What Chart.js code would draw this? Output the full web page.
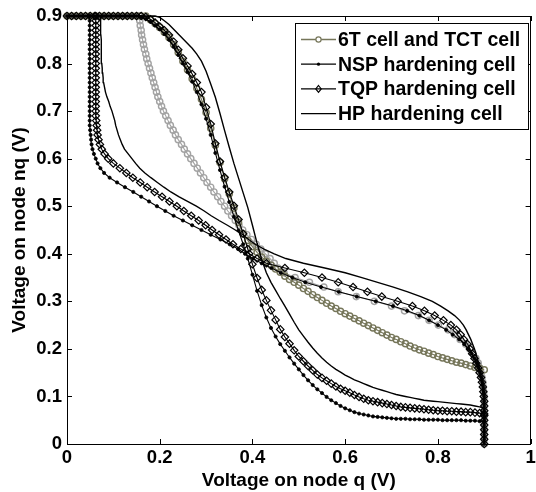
<!DOCTYPE html>
<html><head><meta charset="utf-8">
<script src="https://cdn.jsdelivr.net/npm/chart.js@4"></script>
<style>html,body{margin:0;padding:0;background:#fff;}</style>
</head><body>
<canvas id="c" width="536" height="492" style="display:block;width:536px;height:492px"></canvas>
<script>
// Sweep voltage (input node), 0.00 .. 0.90 V
const sweep = [
0.00,0.01,0.02,0.03,0.04,0.05,0.06,0.07,0.08,0.09,
0.10,0.11,0.12,0.13,0.14,0.15,0.16,0.17,0.18,0.19,
0.20,0.21,0.22,0.23,0.24,0.25,0.26,0.27,0.28,0.29,
0.30,0.31,0.32,0.33,0.34,0.35,0.36,0.37,0.38,0.39,
0.40,0.41,0.42,0.43,0.44,0.45,0.46,0.47,0.48,0.49,
0.50,0.51,0.52,0.53,0.54,0.55,0.56,0.57,0.58,0.59,
0.60,0.61,0.62,0.63,0.64,0.65,0.66,0.67,0.68,0.69,
0.70,0.71,0.72,0.73,0.74,0.75,0.76,0.77,0.78,0.79,
0.80,0.81,0.82,0.83,0.84,0.85,0.86,0.87,0.88,0.89,
0.90];

// 6T / TCT cell: nq as a function of q (curve A), q as a function of nq (curve B)
const cell6T_A = [
0.9,0.9,0.9,0.9,0.9,0.9,0.9,0.9,0.9,0.9,
0.9,0.9,0.9,0.9,0.9,0.9,0.9,0.9,0.892,0.884,
0.876,0.866,0.855,0.84,0.823,0.805,0.787,0.768,0.748,0.725,
0.697,0.664,0.628,0.592,0.558,0.526,0.496,0.466,0.442,0.428,
0.415,0.403,0.393,0.384,0.376,0.368,0.361,0.353,0.346,0.34,
0.334,0.327,0.321,0.314,0.308,0.302,0.296,0.29,0.285,0.279,
0.274,0.269,0.264,0.259,0.254,0.249,0.244,0.239,0.234,0.229,
0.224,0.22,0.215,0.211,0.206,0.202,0.198,0.195,0.191,0.188,
0.184,0.181,0.178,0.175,0.172,0.17,0.167,0.164,0.161,0.159,
0.156];
const cell6T_B = [
0.9,0.9,0.9,0.9,0.9,0.9,0.9,0.9,0.9,0.9,
0.9,0.899,0.898,0.897,0.895,0.893,0.89,0.887,0.882,0.876,
0.869,0.86,0.848,0.836,0.822,0.801,0.781,0.758,0.728,0.7,
0.663,0.624,0.585,0.554,0.523,0.492,0.468,0.455,0.447,0.438,
0.428,0.418,0.408,0.398,0.388,0.379,0.371,0.363,0.355,0.347,
0.34,0.332,0.325,0.317,0.31,0.302,0.295,0.288,0.281,0.274,
0.267,0.26,0.253,0.247,0.24,0.234,0.229,0.223,0.218,0.213,
0.208,0.204,0.2,0.196,0.193,0.19,0.187,0.184,0.181,0.178,
0.175,0.172,0.17,0.167,0.165,0.163,0.161,0.16,0.158,0.157,
0.155];

// NSP hardening cell
const nsp_A = [
0.9,0.9,0.9,0.9,0.9,0.9,0.9,0.9,0.9,0.9,
0.9,0.9,0.9,0.9,0.9,0.9,0.898,0.894,0.888,0.88,
0.872,0.862,0.85,0.835,0.818,0.8,0.782,0.762,0.74,0.714,
0.684,0.65,0.612,0.576,0.541,0.509,0.478,0.449,0.42,0.39,
0.356,0.322,0.292,0.266,0.244,0.226,0.21,0.196,0.182,0.169,
0.157,0.145,0.134,0.124,0.115,0.107,0.099,0.092,0.086,0.08,
0.075,0.071,0.067,0.064,0.062,0.06,0.058,0.057,0.056,0.055,
0.054,0.053,0.053,0.053,0.052,0.052,0.052,0.051,0.051,0.051,
0.051,0.05,0.05,0.05,0.05,0.05,0.049,0.049,0.049,0.048,
0.048];
const nsp_B = [
0.9,0.9,0.9,0.9,0.9,0.9,0.9,0.9,0.9,0.9,
0.9,0.899,0.898,0.896,0.894,0.891,0.888,0.884,0.879,0.873,
0.866,0.857,0.846,0.832,0.818,0.8,0.781,0.76,0.734,0.703,
0.666,0.625,0.586,0.548,0.514,0.486,0.461,0.441,0.42,0.401,
0.384,0.369,0.351,0.331,0.31,0.29,0.27,0.25,0.23,0.212,
0.194,0.177,0.16,0.143,0.125,0.108,0.092,0.08,0.072,0.066,
0.062,0.058,0.055,0.053,0.052,0.051,0.05,0.049,0.049,0.049,
0.049,0.049,0.049,0.049,0.049,0.049,0.049,0.049,0.049,0.049,
0.049,0.049,0.049,0.049,0.049,0.049,0.049,0.049,0.049,0.049,
0.049];

// TQP hardening cell
const tqp_A = [
0.9,0.9,0.9,0.9,0.9,0.9,0.9,0.9,0.9,0.9,
0.9,0.9,0.9,0.9,0.9,0.9,0.9,0.898,0.893,0.886,
0.878,0.87,0.86,0.846,0.829,0.811,0.795,0.778,0.76,0.74,
0.708,0.673,0.632,0.594,0.561,0.53,0.501,0.472,0.442,0.41,
0.378,0.349,0.324,0.302,0.281,0.261,0.241,0.225,0.211,0.197,
0.184,0.174,0.164,0.155,0.146,0.139,0.133,0.127,0.121,0.116,
0.112,0.108,0.103,0.099,0.095,0.092,0.09,0.088,0.086,0.084,
0.082,0.08,0.078,0.077,0.076,0.075,0.074,0.073,0.072,0.071,
0.07,0.07,0.069,0.069,0.068,0.068,0.067,0.067,0.066,0.065,
0.063];
const tqp_B = [
0.9,0.9,0.9,0.9,0.9,0.9,0.9,0.9,0.9,0.9,
0.899,0.898,0.897,0.895,0.893,0.89,0.887,0.883,0.879,0.874,
0.869,0.864,0.856,0.849,0.84,0.828,0.812,0.793,0.771,0.745,
0.713,0.679,0.648,0.617,0.585,0.55,0.512,0.47,0.43,0.41,
0.393,0.375,0.358,0.343,0.328,0.313,0.299,0.284,0.268,0.252,
0.237,0.221,0.205,0.189,0.173,0.158,0.142,0.128,0.114,0.1,
0.089,0.081,0.075,0.071,0.068,0.066,0.065,0.064,0.063,0.062,
0.062,0.062,0.062,0.062,0.062,0.062,0.062,0.062,0.062,0.062,
0.062,0.062,0.062,0.062,0.062,0.062,0.062,0.062,0.062,0.062,
0.062];

// HP hardening cell
const hp_A = [
0.9,0.9,0.9,0.9,0.9,0.9,0.9,0.9,0.9,0.9,
0.9,0.9,0.9,0.9,0.9,0.9,0.9,0.9,0.9,0.9,
0.897,0.89,0.882,0.872,0.862,0.852,0.842,0.832,0.82,0.805,
0.784,0.757,0.729,0.695,0.659,0.624,0.59,0.559,0.528,0.497,
0.46,0.422,0.388,0.36,0.34,0.323,0.306,0.29,0.273,0.256,
0.24,0.227,0.214,0.202,0.191,0.181,0.172,0.164,0.157,0.151,
0.145,0.14,0.135,0.131,0.127,0.123,0.119,0.116,0.113,0.11,
0.107,0.104,0.102,0.1,0.098,0.096,0.094,0.092,0.091,0.09,
0.089,0.088,0.087,0.086,0.085,0.084,0.083,0.082,0.08,0.078,
0.075];
const hp_B = [
0.9,0.9,0.9,0.9,0.9,0.9,0.9,0.9,0.9,0.899,
0.898,0.897,0.896,0.894,0.893,0.891,0.889,0.887,0.885,0.882,
0.879,0.875,0.871,0.866,0.861,0.855,0.847,0.836,0.822,0.806,
0.788,0.763,0.735,0.704,0.67,0.636,0.6,0.556,0.51,0.472,
0.447,0.425,0.406,0.392,0.379,0.363,0.346,0.328,0.311,0.296,
0.279,0.26,0.241,0.224,0.209,0.195,0.181,0.168,0.157,0.148,
0.14,0.132,0.124,0.119,0.115,0.111,0.108,0.105,0.103,0.1,
0.097,0.093,0.09,0.086,0.083,0.081,0.079,0.078,0.077,0.076,
0.075,0.074,0.074,0.074,0.074,0.074,0.073,0.073,0.073,0.072,
0.072];

const legendLabels = ['6T cell and TCT cell','NSP hardening cell','TQP hardening cell','HP hardening cell'];
const xTickValues = [0,0.2,0.4,0.6,0.8,1];
const xTickLabels = ['0','0.2','0.4','0.6','0.8','1'];
const yTickValues = [0,0.1,0.2,0.3,0.4,0.5,0.6,0.7,0.8,0.9];
const yTickLabels = ['0','0.1','0.2','0.3','0.4','0.5','0.6','0.7','0.8','0.9'];

const curveA = arr => sweep.map((q,i)=>({x:q, y:arr[i]}));
const curveB = arr => sweep.map((v,i)=>({x:arr[i], y:v}));

const OLIVE = '#76765a', GREY = '#a3a3a3';
const FONT = "'Liberation Sans', Arial, Helvetica, sans-serif";

function ds(label, data, color, style, radius, fill, bw, lw){
  return {label, data, showLine:true, borderColor:color, borderWidth:lw,
    pointStyle:style, pointRadius:radius, pointBorderColor:color,
    pointBackgroundColor:fill, pointBorderWidth:bw, tension:0, clip:false};
}

const datasets = [
  ds('HP hardening cell', curveA(hp_A), '#000', 'circle', 0, '#000', 0, 1.4),
  ds('HP B', curveB(hp_B), '#000', 'circle', 0, '#000', 0, 1.4),
  ds('TQP hardening cell', curveA(tqp_A), '#000', 'rectRot', 3.7, 'rgba(0,0,0,0)', 1.2, 1.1),
  ds('TQP B', curveB(tqp_B), '#000', 'rectRot', 3.7, 'rgba(0,0,0,0)', 1.2, 1.1),
  ds('NSP hardening cell', curveA(nsp_A), '#000', 'circle', 1.6, '#000', 0.8, 1.1),
  ds('NSP B', curveB(nsp_B), '#000', 'circle', 1.6, '#000', 0.8, 1.1),
  ds('6T cell and TCT cell', curveA(cell6T_A), OLIVE, 'circle', 3.1, 'rgba(0,0,0,0)', 1.4, 1.1),
  ds('6T B', curveB(cell6T_B), GREY, 'circle', 3.1, 'rgba(0,0,0,0)', 1.4, 1.1)
];

const frameTicks = {
  id:'frameTicks',
  afterDatasetsDraw(chart){
    const {ctx, chartArea:a, scales:{x,y}} = chart;
    ctx.save();
    ctx.strokeStyle='#000'; ctx.lineWidth=1;
    ctx.beginPath();
    xTickValues.forEach(v=>{
      const px = Math.round(x.getPixelForValue(v))+0.5;
      ctx.moveTo(px, a.bottom); ctx.lineTo(px, a.bottom-5);
      ctx.moveTo(px, a.top); ctx.lineTo(px, a.top+5);
    });
    yTickValues.forEach(v=>{
      const py = Math.round(y.getPixelForValue(v))+0.5;
      ctx.moveTo(a.left, py); ctx.lineTo(a.left+5, py);
      ctx.moveTo(a.right, py); ctx.lineTo(a.right-5, py);
    });
    ctx.stroke();
    ctx.strokeRect(Math.round(a.left)+0.5, Math.round(a.top)+0.5, Math.round(a.width)-1, Math.round(a.height));
    ctx.restore();
  }
};

const legendStyles = [
  {color:OLIVE, style:'circle', r:2.6},
  {color:'#000', style:'dot', r:1.6},
  {color:'#000', style:'diamond', r:3.4},
  {color:'#000', style:'none', r:0}
];

const legendBox = {
  id:'legendBox',
  afterDraw(chart){
    const ctx = chart.ctx;
    const bx=295.5, by=23.5, bw=233, bh=106;
    ctx.save();
    ctx.fillStyle='#fff'; ctx.fillRect(bx,by,bw,bh);
    ctx.strokeStyle='#000'; ctx.lineWidth=1; ctx.strokeRect(bx,by,bw,bh);
    legendLabels.forEach((lab,i)=>{
      const st = legendStyles[i];
      const yy = 39.5 + i*24.7;
      ctx.strokeStyle = st.color; ctx.lineWidth = 1.3;
      ctx.beginPath(); ctx.moveTo(301, yy); ctx.lineTo(336, yy); ctx.stroke();
      const cx = 318.5;
      ctx.lineWidth = 1.2;
      if (st.style==='circle'){ ctx.beginPath(); ctx.arc(cx,yy,st.r,0,Math.PI*2); ctx.fillStyle='#fff'; ctx.fill(); ctx.stroke(); }
      else if (st.style==='dot'){ ctx.beginPath(); ctx.arc(cx,yy,st.r,0,Math.PI*2); ctx.fillStyle='#000'; ctx.fill(); }
      else if (st.style==='diamond'){ ctx.beginPath(); ctx.moveTo(cx,yy-st.r); ctx.lineTo(cx+st.r*0.8,yy); ctx.lineTo(cx,yy+st.r); ctx.lineTo(cx-st.r*0.8,yy); ctx.closePath(); ctx.stroke(); }
      ctx.fillStyle='#000';
      ctx.font = "bold 19.5px " + FONT;
      ctx.textBaseline='middle'; ctx.textAlign='left';
      ctx.fillText(lab, 338, yy+1);
    });
    ctx.restore();
  }
};

new Chart(document.getElementById('c'), {
  type:'scatter',
  data:{datasets},
  options:{
    responsive:false, animation:false, devicePixelRatio:1,
    layout:{padding:{top:16, right:3, left:0, bottom:0}},
    plugins:{legend:{display:false}, tooltip:{enabled:false}},
    scales:{
      x:{type:'linear', min:0, max:1,
        afterBuildTicks(s){ s.ticks = xTickValues.map(v=>({value:v})); },
        afterFit(s){ s.height = 48; s.paddingLeft=0; s.paddingRight=0; },
        grid:{display:false, drawTicks:false}, border:{display:false},
        ticks:{padding:3, maxRotation:0, autoSkip:false, color:'#000',
          font:{family:FONT, size:18.5, weight:'bold'},
          callback:(v,i)=>xTickLabels[i]},
        title:{display:true, text:'Voltage on node q (V)', color:'#000',
          font:{family:FONT, size:19, weight:'bold'}, padding:{top:0,bottom:0}}
      },
      y:{type:'linear', min:0, max:0.9,
        afterBuildTicks(s){ s.ticks = yTickValues.map(v=>({value:v})); },
        afterFit(s){ s.width = 67; s.paddingTop=0; s.paddingBottom=0; },
        grid:{display:false, drawTicks:false}, border:{display:false},
        ticks:{padding:5, autoSkip:false, color:'#000',
          font:{family:FONT, size:18.5, weight:'bold'},
          callback:(v,i)=>yTickLabels[i]},
        title:{display:true, text:'Voltage on node nq (V)', color:'#000',
          font:{family:FONT, size:19, weight:'bold'}, padding:{top:8,bottom:0}}
      }
    }
  },
  plugins:[frameTicks, legendBox]
});
</script>
</body></html>
